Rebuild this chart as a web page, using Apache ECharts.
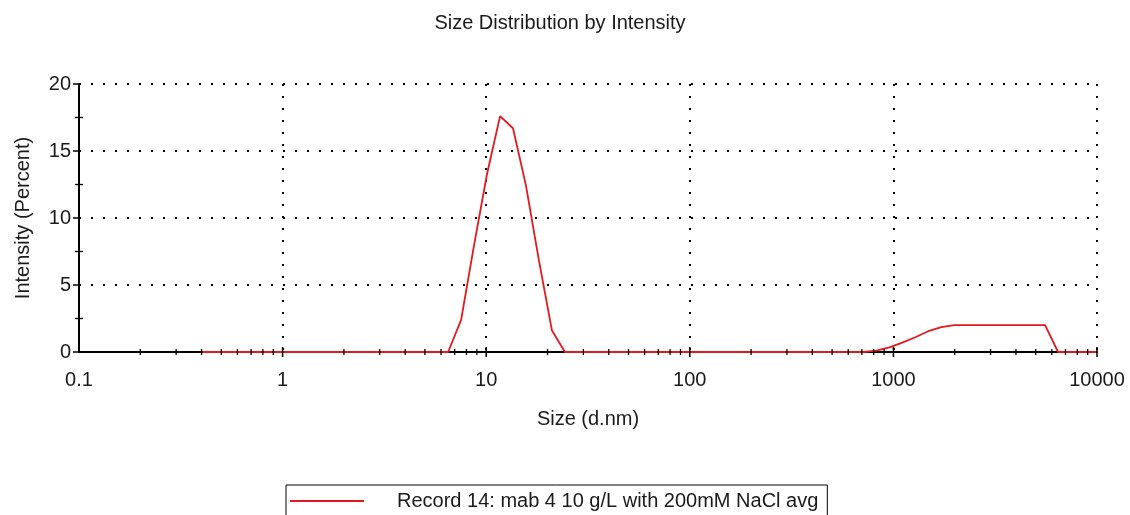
<!DOCTYPE html>
<html>
<head>
<meta charset="utf-8">
<script src="https://cdn.jsdelivr.net/npm/echarts@6/dist/echarts.min.js"></script>
<style>
  html, body { margin: 0; padding: 0; background: #fff; }
  #chart { width: 1130px; height: 515px; }
</style>
</head>
<body>
<div id="chart"></div>
<script>
// Size classes (d.nm) of the distribution
const sizes = [
  0.4, 0.4632, 0.5365, 0.6213, 0.7195, 0.8332, 0.9649, 1.117, 1.294, 1.499,
  1.736, 2.01, 2.328, 2.696, 3.122, 3.615, 4.187, 4.849, 5.615, 6.503,
  7.531, 8.721, 10.1, 11.7, 13.54, 15.69, 18.17, 21.04, 24.36, 28.21,
  32.67, 37.84, 43.82, 50.75, 58.77, 68.06, 78.82, 91.28, 105.7, 122.4,
  141.8, 164.2, 190.1, 220.2, 255, 295.3, 342, 396.1, 458.7, 531.2,
  615.1, 712.4, 825, 955.4, 1106, 1281, 1484, 1718, 1990, 2305,
  2669, 3091, 3580, 4145, 4801, 5560, 6439, 7456, 8635, 10000
];
// Intensity (percent) per size class
const intensity = [
  0, 0, 0, 0, 0, 0, 0, 0, 0, 0,
  0, 0, 0, 0, 0, 0, 0, 0, 0, 0,
  2.4, 8.0, 13.3, 17.6, 16.7, 12.4, 6.8, 1.6, 0, 0,
  0, 0, 0, 0, 0, 0, 0, 0, 0, 0,
  0, 0, 0, 0, 0, 0, 0, 0, 0, 0,
  0, 0, 0.1, 0.35, 0.7, 1.1, 1.55, 1.85, 2.0, 2.0,
  2.0, 2.0, 2.0, 2.0, 2.0, 2.0, 0, 0, 0, 0
];
const recordName = 'Record 14: mab 4 10 g/L with 200mM NaCl avg';

// Axis ticks
const xMajorTicks = [1, 10, 100, 1000, 10000];
const xDecades = [0.1, 1, 10, 100, 1000];
const xMinorSteps = [2, 3, 4, 5, 6, 7, 8, 9];
const yMajorTicks = [0, 5, 10, 15, 20];
const yMinorTicks = [2.5, 7.5, 12.5, 17.5];

const xMinorTicks = [];
xDecades.forEach(d => xMinorSteps.forEach(s => xMinorTicks.push(Number((d * s).toPrecision(3)))));

const FONT = '"Liberation Sans", Arial, sans-serif';
const FONT_SIZE = 20;
const TEXT_COLOR = '#1a1a1a';

// Draws short black tick marks crossing an axis line
function tickSeries(points, horizontal, before, after, width) {
  return {
    type: 'custom',
    silent: true,
    z: 5,
    clip: false,
    data: points,
    renderItem: function (params, api) {
      const p = api.coord([api.value(0), api.value(1)]);
      const shape = horizontal
        ? { x1: p[0], y1: p[1] - before, x2: p[0], y2: p[1] + after }
        : { x1: p[0] - before, y1: p[1], x2: p[0] + after, y2: p[1] };
      return { type: 'line', shape: shape, style: { stroke: '#000', lineWidth: width } };
    }
  };
}

const chart = echarts.init(document.getElementById('chart'), null, { renderer: 'canvas' });

chart.setOption({
  animation: false,
  backgroundColor: '#fff',
  title: {
    text: 'Size Distribution by Intensity',
    left: 555,
    textAlign: 'center',
    top: 8,
    textStyle: { fontFamily: FONT, fontSize: FONT_SIZE, fontWeight: 'normal', color: TEXT_COLOR }
  },
  grid: { left: 79, right: 33, top: 84, bottom: 163, containLabel: false },
  legend: {
    data: [{ name: recordName, icon: 'rect' }],
    left: 286,
    top: 485,
    itemWidth: 74,
    itemHeight: 2,
    borderColor: '#000',
    borderWidth: 1,
    borderRadius: 0,
    padding: [6, 9, 12, 4],
    textStyle: { fontFamily: FONT, fontSize: FONT_SIZE, color: TEXT_COLOR, padding: [0, 0, 0, 28] }
  },
  xAxis: {
    type: 'log',
    logBase: 10,
    min: 0.1,
    max: 10000,
    name: 'Size (d.nm)',
    nameLocation: 'middle',
    nameGap: 57,
    nameTextStyle: { fontFamily: FONT, fontSize: FONT_SIZE, color: TEXT_COLOR },
    axisLine: { show: true, lineStyle: { color: '#000', width: 2 } },
    axisTick: { show: false },
    minorTick: { show: false },
    axisLabel: {
      margin: 18,
      fontFamily: FONT,
      fontSize: FONT_SIZE,
      color: TEXT_COLOR,
      formatter: v => String(Number(Number(v).toPrecision(3)))
    },
    splitLine: { show: true, lineStyle: { color: '#000', width: 2, type: [2, 10] } }
  },
  yAxis: {
    type: 'value',
    min: 0,
    max: 20,
    interval: 5,
    name: 'Intensity (Percent)',
    nameLocation: 'middle',
    nameGap: 46,
    nameTextStyle: { fontFamily: FONT, fontSize: FONT_SIZE, color: TEXT_COLOR },
    axisLine: { show: true, lineStyle: { color: '#000', width: 2 } },
    axisTick: { show: false },
    axisLabel: { margin: 8, fontFamily: FONT, fontSize: FONT_SIZE, color: TEXT_COLOR },
    splitLine: { show: true, lineStyle: { color: '#000', width: 2, type: [2, 10] } }
  },
  series: [
    {
      name: recordName,
      type: 'line',
      data: sizes.map((s, i) => [s, intensity[i]]),
      showSymbol: false,
      symbol: 'none',
      z: 3,
      lineStyle: { color: '#e3191e', width: 1.8 },
      itemStyle: { color: '#e3191e' }
    },
    tickSeries(xMajorTicks.map(v => [v, 0]), true, 5, 5, 1.5),
    tickSeries(xMinorTicks.map(v => [v, 0]), true, 3, 3, 1.3),
    tickSeries(yMajorTicks.map(v => [0.1, v]), false, 6, 2, 1.5),
    tickSeries(yMinorTicks.map(v => [0.1, v]), false, 4, 4, 1.3)
  ]
});
</script>
</body>
</html>
